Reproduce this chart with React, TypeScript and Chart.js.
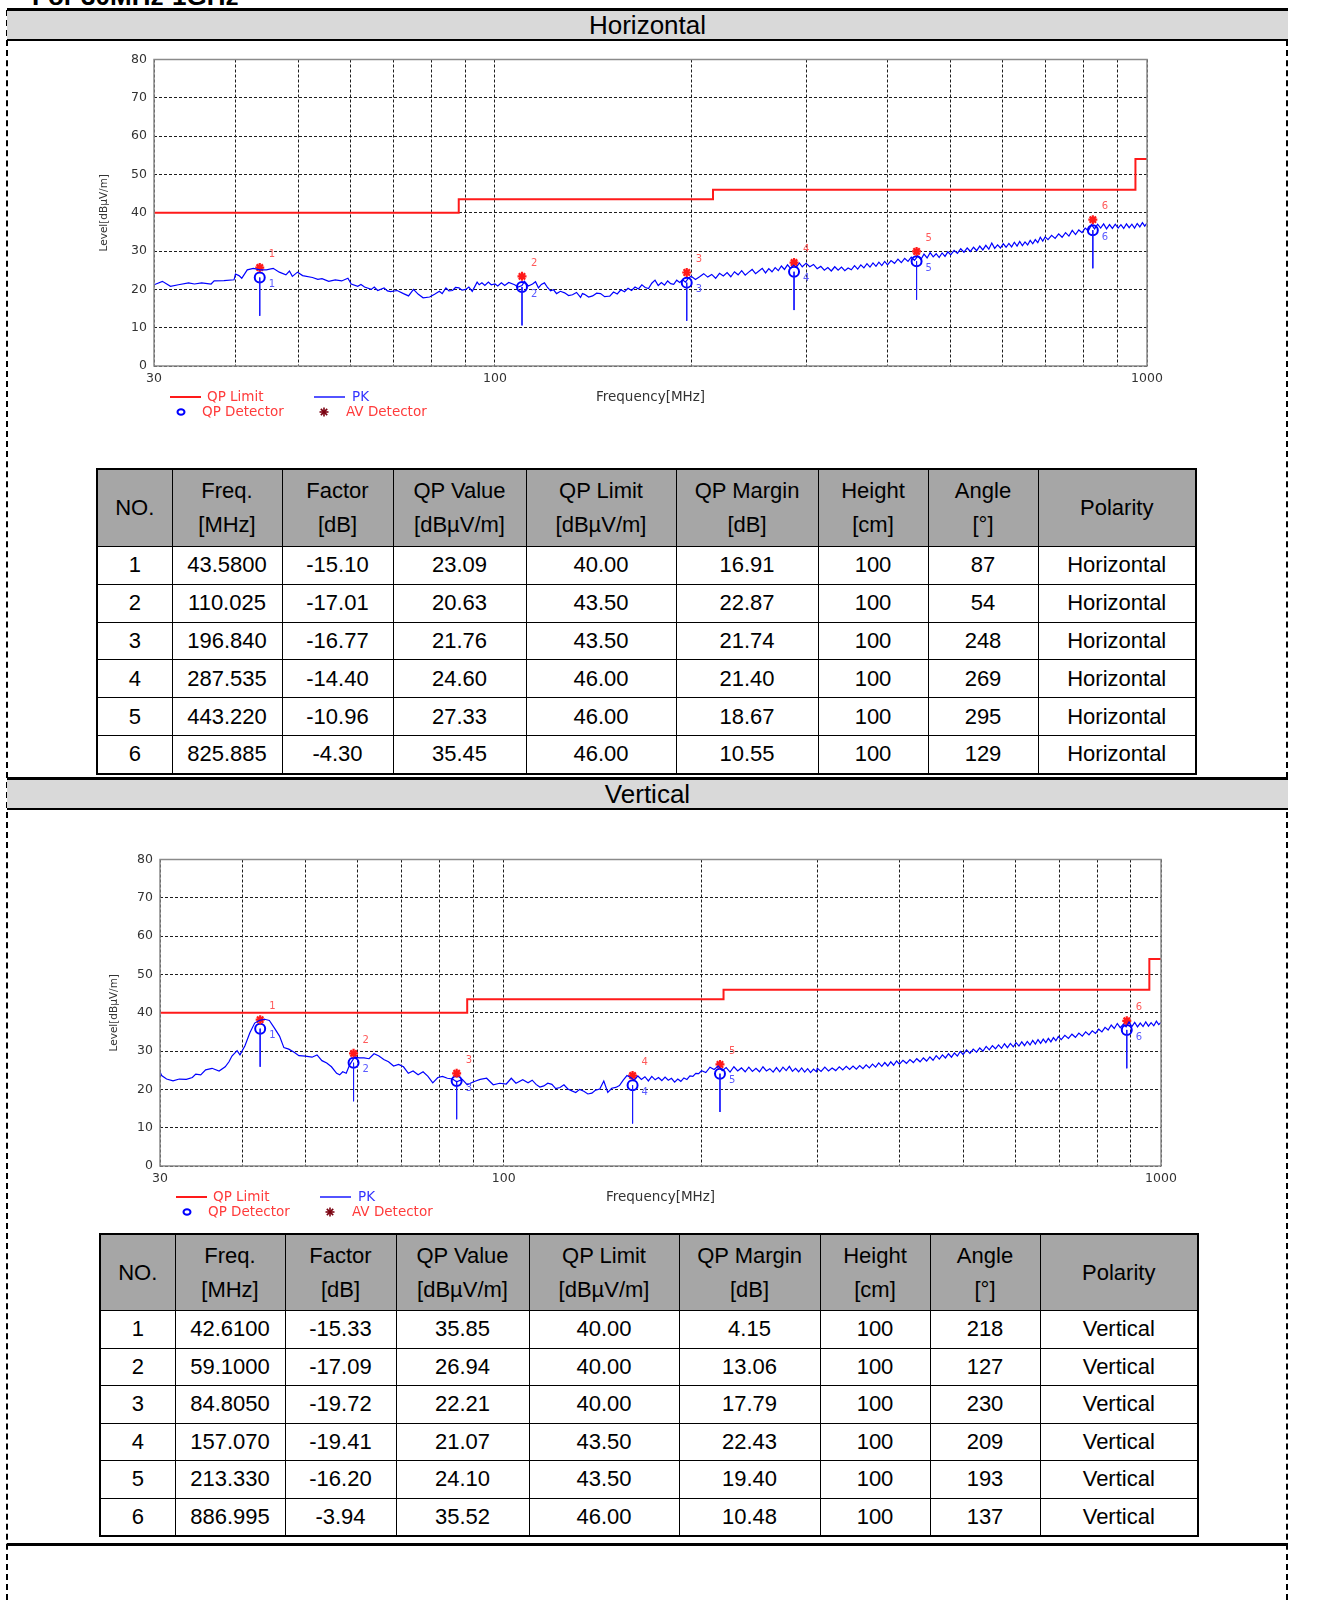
import React, { useEffect, useRef } from 'react';
import { Chart, registerables } from 'chart.js';

Chart.register(...registerables);

// ---------- axis data ----------
const X_GRID = [30, 40, 50, 60, 70, 80, 90, 100, 200, 300, 400, 500, 600, 700, 800, 900, 1000];
const X_LABELS = [30, 100, 1000];

// ---------- limit line (QP Limit) ----------
const LIMIT_FREQ = [30, 88, 88, 216, 216, 960, 960, 1000];
const LIMIT_LEVEL = [40, 40, 43.5, 43.5, 46, 46, 54, 54];

// ---------- PK traces [MHz, dBµV/m] ----------
const H_TRACE: [number, number][] = [
  [30, 21.2], [30.9, 22.1], [31.8, 20.8], [32.7, 21.2], [33.9, 21.7], [34.6, 21.4], [35.5, 21.7], [36.7, 21.4],
  [37.1, 22.2], [38.4, 22.3], [39.8, 22.5], [40.0, 24.0], [40.5, 23.6], [40.9, 22.9], [41.7, 25.1], [42.6, 25.5],
  [43.6, 25.1], [44.6, 25.1], [45.7, 25.5], [46.7, 24.5], [47.8, 23.8], [48.4, 24.8], [48.9, 23.4], [49.8, 24.5],
  [50.7, 23.6], [52.5, 23.1], [53.5, 22.6], [54.3, 22.8], [55.6, 22.1], [56.9, 22.5], [58.2, 22.2], [59.5, 22.9],
  [60.2, 21.4], [61.6, 20.8], [62.3, 21.3], [63.1, 20.6], [64.6, 20.0], [65.3, 20.6], [66.1, 19.7], [67.6, 20.4],
  [68.4, 19.6], [69.2, 19.4], [70.8, 19.7], [72.4, 18.9], [73.7, 18.3], [75.0, 20.0], [76.3, 18.7], [77.6, 17.8],
  [79.4, 18.0], [80.8, 18.7], [82.2, 19.5], [83.0, 18.9], [84.1, 20.4], [85.0, 19.6], [86.1, 19.7], [87.0, 20.5],
  [88.1, 20.4], [89.0, 19.8], [90.2, 20.0], [91.2, 20.6], [92.3, 19.5], [93.9, 21.9], [94.6, 21.2], [95.5, 21.7],
  [96.5, 21.0], [97.7, 21.9], [98.7, 21.2], [100, 21.4], [101, 20.9], [102.3, 21.7], [103.5, 21.0], [105, 21.8],
  [107.2, 21.2], [108.5, 20.6], [110, 21.0], [111, 22.1], [112.5, 20.9], [114.2, 21.4], [115.4, 22.0], [116.6, 20.4],
  [117.8, 21.3], [119.1, 21.7], [120.4, 20.5], [121.7, 19.6], [123, 19.9], [124.3, 18.9], [126, 19.5], [127.9, 19.1],
  [129.7, 18.4], [131.5, 18.6], [133.4, 19.2], [135.3, 17.9], [136.2, 18.9], [137.2, 18.7], [139.2, 18.0], [141.2, 18.3],
  [143.2, 19.0], [145.2, 18.9], [147.3, 18.1], [149.4, 18.2],
  [150, 18.2], [152, 19.3], [154, 18.8], [156, 19.9], [158, 19.4], [160, 20.3], [162, 19.7], [164, 20.6], [166, 20.1],
  [168, 21.2], [170, 20.5], [172, 20.2], [174, 21.6], [176, 22.4], [178, 21.0], [180, 21.8], [182, 21.1], [184, 22.2],
  [186, 21.5], [188, 21.3], [190, 22.4], [192, 21.8], [194, 22.5], [196, 21.9], [198, 22.9],
  [200, 23.4], [203, 22.6], [206, 23.3], [209, 24.1], [212, 23.2], [215, 23.9], [218, 22.9], [221, 24.2], [224, 23.5],
  [227, 24.4], [230, 23.3], [233, 24.6], [236, 23.8], [239, 24.9], [242, 23.7], [245, 24.5], [248, 25.2], [251, 24.1],
  [254, 24.8], [257, 25.5], [260, 24.3], [263, 25.4], [266, 24.6], [269, 25.7], [272, 24.9], [275, 26.1], [278, 25.2],
  [281, 26.4], [284, 25.5], [287, 26.3], [290, 25.8], [293, 26.9], [296, 25.9], [299, 26.6],
  [300, 26.8], [304, 25.9], [308, 26.5], [312, 25.4], [316, 26.0], [320, 25.0], [324, 25.7], [328, 24.8], [332, 25.9],
  [336, 25.0], [340, 25.8], [344, 24.9], [348, 25.6], [352, 25.1], [356, 26.2], [360, 25.3], [364, 26.4], [368, 25.6],
  [372, 26.7], [376, 25.8], [380, 26.9], [384, 26.0], [388, 27.1], [392, 26.2], [396, 27.3],
  [400, 26.4], [405, 27.5], [410, 26.8], [415, 27.9], [420, 27.0], [425, 28.1], [430, 27.3], [435, 28.4], [440, 27.6],
  [445, 28.7], [450, 27.8], [455, 29.2], [460, 28.2], [465, 29.6], [470, 28.5], [475, 29.3], [480, 28.3], [485, 29.5],
  [490, 28.6], [495, 29.8],
  [500, 29.0], [506, 30.2], [512, 29.4], [518, 30.6], [524, 29.7], [530, 30.8], [536, 29.9], [542, 31.0], [548, 30.1],
  [554, 31.3], [560, 30.3], [566, 31.5], [572, 30.5], [578, 32.1], [584, 30.7], [590, 31.6], [596, 30.8], [602, 31.9],
  [608, 31.0], [614, 32.0], [620, 31.1], [626, 32.3], [632, 31.3], [638, 32.5], [644, 31.4], [650, 32.4], [656, 31.6],
  [662, 32.8], [668, 31.9], [674, 33.0], [680, 32.2], [686, 33.6], [692, 32.6], [698, 33.7],
  [705, 33.0], [714, 34.1], [723, 33.3], [732, 34.5], [741, 33.6], [750, 34.8], [759, 33.9], [768, 35.4], [777, 34.3],
  [786, 35.5], [795, 34.8], [804, 36.0], [813, 35.3], [822, 36.9], [831, 35.8], [840, 37.0], [849, 36.0], [858, 37.1],
  [867, 35.8], [876, 36.9], [885, 35.9], [894, 37.0], [903, 36.0], [912, 36.9], [921, 35.9], [930, 37.1], [939, 36.1],
  [948, 37.0], [957, 36.0], [966, 37.2], [975, 36.3], [984, 37.4], [992, 36.5], [1000, 37.3],
];

const V_TRACE: [number, number][] = [
  [30, 24.6], [30.17, 23.6], [30.7, 22.7], [31.4, 22.2], [32.1, 22.7], [32.9, 22.6], [33.6, 23.1], [34.0, 24.0],
  [34.6, 23.8], [35.2, 25.1], [36.0, 25.5], [36.9, 24.8], [37.7, 25.9], [38.2, 27.2], [38.6, 28.7], [39.3, 30.1],
  [39.7, 29.0], [40.4, 31.4], [41.1, 34.8], [41.8, 37.3], [42.5, 38.0], [43.3, 38.3], [44.0, 38.0], [44.8, 36.0],
  [45.6, 33.9], [46.3, 30.9], [47.1, 30.5], [48.0, 29.7], [48.8, 28.8], [49.9, 28.7], [51.1, 28.4], [52.0, 29.0],
  [52.9, 27.5], [53.8, 26.9], [54.7, 25.9], [55.7, 24.2], [56.3, 23.8], [56.9, 24.6], [57.6, 24.2], [58.3, 26.4],
  [59.3, 28.4], [60.3, 28.2], [61.3, 28.2], [62.4, 28.0], [63.5, 29.3], [64.6, 28.7], [65.7, 27.8], [66.8, 27.2],
  [68.0, 26.1], [69.2, 26.5], [70.4, 25.9], [71.6, 24.2], [72.8, 24.8], [74.1, 23.8], [75.4, 24.6], [76.7, 23.4],
  [78.0, 21.7], [79.4, 23.1], [80.7, 23.4], [82.1, 22.9], [83.6, 22.7], [84.8, 22.0], [86.5, 22.6], [88.0, 21.2],
  [90.0, 22.0], [92.1, 22.6], [94.2, 22.9], [96.4, 21.2], [98.6, 21.6], [100.9, 21.4], [102.7, 22.9], [104.4, 21.6],
  [106.9, 22.5], [108.9, 21.7], [110.5, 22.4], [112.0, 21.3], [113.5, 20.6], [115.1, 20.9], [116.7, 21.6], [118.4, 21.3],
  [120, 20.2], [121.8, 20.5], [123.5, 21.2], [125.2, 20.1], [127, 19.6], [128.7, 19.2], [130.5, 20.0], [132.4, 19.5],
  [134.3, 18.8], [136.2, 19.0], [138, 19.8], [140.0, 20.1], [142.0, 22.2], [144.0, 19.2], [146, 20.3], [148.1, 20.5],
  [150, 21.0], [152, 22.4], [154, 23.6], [156, 23.1], [158, 22.4], [160, 23.5], [162, 22.6], [164, 23.3], [166, 22.2],
  [168, 23.4], [170, 22.5], [172, 23.1], [174, 22.3], [176, 23.2], [178, 22.4], [180, 22.9], [182, 21.9], [184, 22.7],
  [186, 22.1], [188, 23.0], [190, 22.6], [192, 23.5], [194, 23.4], [196, 24.2], [198, 24.1],
  [200, 24.9], [203, 24.4], [206, 25.8], [209, 25.2], [212, 26.1], [215, 24.9], [218, 25.7], [221, 24.5], [224, 25.9],
  [227, 24.8], [230, 25.6], [233, 24.6], [236, 25.8], [239, 24.7], [242, 25.5], [245, 24.6], [248, 25.9], [251, 24.8],
  [254, 25.4], [257, 24.5], [260, 25.7], [263, 24.6], [266, 25.8], [269, 24.9], [272, 26.0], [275, 24.7], [278, 25.5],
  [281, 24.6], [284, 25.6], [287, 24.5], [290, 25.4], [293, 24.4], [296, 25.3], [299, 24.6],
  [300, 25.5], [304, 24.7], [308, 25.8], [312, 24.8], [316, 25.6], [320, 24.9], [324, 25.9], [328, 25.1], [332, 26.0],
  [336, 25.2], [340, 26.1], [344, 25.3], [348, 26.2], [352, 25.4], [356, 26.4], [360, 25.6], [364, 26.6], [368, 25.8],
  [372, 26.9], [376, 26.0], [380, 27.0], [384, 26.1], [388, 27.2], [392, 26.3], [396, 27.4],
  [400, 26.6], [405, 27.6], [410, 26.8], [415, 27.8], [420, 27.0], [425, 28.0], [430, 27.2], [435, 28.2], [440, 27.4],
  [445, 28.5], [450, 27.6], [455, 28.8], [460, 27.9], [465, 29.0], [470, 28.2], [475, 29.3], [480, 28.4], [485, 29.5],
  [490, 28.7], [495, 29.9],
  [500, 29.1], [506, 30.3], [512, 29.4], [518, 30.5], [524, 29.7], [530, 30.8], [536, 30.0], [542, 31.2], [548, 30.3],
  [554, 31.4], [560, 30.6], [566, 31.6], [572, 30.7], [578, 31.9], [584, 30.9], [590, 32.0], [596, 31.1], [602, 32.2],
  [608, 31.3], [614, 32.4], [620, 31.4], [626, 32.5], [632, 31.6], [638, 32.8], [644, 31.8], [650, 33.0], [656, 32.0],
  [662, 33.1], [668, 32.2], [674, 33.3], [680, 32.4], [686, 33.5], [692, 32.7], [698, 33.8],
  [705, 33.0], [714, 34.1], [723, 33.3], [732, 34.4], [741, 33.6], [750, 34.7], [759, 33.9], [768, 35.0], [777, 34.2],
  [786, 35.3], [795, 34.6], [804, 35.7], [813, 35.0], [822, 36.2], [831, 35.5], [840, 36.8], [849, 35.9], [858, 37.2],
  [867, 36.1], [876, 37.0], [885, 36.3], [894, 37.6], [903, 36.4], [912, 37.5], [921, 36.3], [930, 37.3], [939, 36.4],
  [948, 37.6], [957, 36.5], [966, 37.4], [975, 36.6], [984, 37.8], [992, 36.9], [1000, 37.5],
];

// ---------- markers ----------
const H_MARK_FREQ = [43.58, 110.025, 196.84, 287.535, 443.22, 825.885];
const H_MARK_QP = [23.09, 20.63, 21.76, 24.6, 27.33, 35.45];
const H_MARK_PEAK = [25.7, 23.4, 24.4, 27.0, 29.9, 38.2];
const H_MARK_STEM = [13.1, 10.6, 11.8, 14.6, 17.3, 25.5];

const V_MARK_FREQ = [42.61, 59.1, 84.805, 157.07, 213.33, 886.995];
const V_MARK_QP = [35.85, 26.94, 22.21, 21.07, 24.1, 35.52];
const V_MARK_PEAK = [38.2, 29.4, 24.2, 23.6, 26.5, 37.9];
const V_MARK_STEM = [25.9, 16.9, 12.2, 11.1, 14.1, 25.5];

// ---------- tables ----------
const TABLE_HEAD: string[][] = [
  ['NO.'], ['Freq.', '[MHz]'], ['Factor', '[dB]'], ['QP Value', '[dBµV/m]'], ['QP Limit', '[dBµV/m]'],
  ['QP Margin', '[dB]'], ['Height', '[cm]'], ['Angle', '[°]'], ['Polarity'],
];
const H_ROWS: string[][] = [
  ['1', '43.5800', '-15.10', '23.09', '40.00', '16.91', '100', '87', 'Horizontal'],
  ['2', '110.025', '-17.01', '20.63', '43.50', '22.87', '100', '54', 'Horizontal'],
  ['3', '196.840', '-16.77', '21.76', '43.50', '21.74', '100', '248', 'Horizontal'],
  ['4', '287.535', '-14.40', '24.60', '46.00', '21.40', '100', '269', 'Horizontal'],
  ['5', '443.220', '-10.96', '27.33', '46.00', '18.67', '100', '295', 'Horizontal'],
  ['6', '825.885', '-4.30', '35.45', '46.00', '10.55', '100', '129', 'Horizontal'],
];
const V_ROWS: string[][] = [
  ['1', '42.6100', '-15.33', '35.85', '40.00', '4.15', '100', '218', 'Vertical'],
  ['2', '59.1000', '-17.09', '26.94', '40.00', '13.06', '100', '127', 'Vertical'],
  ['3', '84.8050', '-19.72', '22.21', '40.00', '17.79', '100', '230', 'Vertical'],
  ['4', '157.070', '-19.41', '21.07', '43.50', '22.43', '100', '209', 'Vertical'],
  ['5', '213.330', '-16.20', '24.10', '43.50', '19.40', '100', '193', 'Vertical'],
  ['6', '886.995', '-3.94', '35.52', '46.00', '10.48', '100', '137', 'Vertical'],
];
const H_COLS = [75, 110, 111, 133, 150, 142, 110, 110, 158];
const V_COLS = [75, 110, 111, 133, 150, 141, 110, 110, 158];

const CHART_FONT = "'DejaVu Sans', sans-serif";
const PAGE_FONT = "'Liberation Sans', Arial, sans-serif";

type ChartProps = {
  left: number; top: number; width: number; height: number; padRight: number; yTitlePad: number;
  trace: [number, number][]; mf: number[]; mq: number[]; mp: number[]; ms: number[];
};

function EmcChart(props: ChartProps) {
  const ref = useRef<HTMLCanvasElement>(null);
  useEffect(() => {
    const canvas = ref.current;
    if (!canvas) return;
    const { trace, mf, mq, mp, ms, padRight, yTitlePad } = props;
    const stems: any[] = [];
    mf.forEach((f, i) => {
      stems.push({ x: f, y: mq[i] }, { x: f, y: ms[i] }, { x: f, y: null });
    });

    const overlay = {
      id: 'emcOverlay',
      afterDatasetsDraw(chart: any) {
        const { ctx, scales } = chart;
        const xs = scales.x, ys = scales.y;
        ctx.save();
        ctx.font = `10px ${CHART_FONT}`;
        ctx.textBaseline = 'middle';
        ctx.textAlign = 'left';
        mf.forEach((f, i) => {
          const px = xs.getPixelForValue(f);
          ctx.fillStyle = '#ff5a5a';
          ctx.fillText(String(i + 1), px + 9, ys.getPixelForValue(mp[i]) - 13);
          ctx.fillStyle = '#5a5aff';
          ctx.fillText(String(i + 1), px + 9, ys.getPixelForValue(mq[i]) + 7);
        });
        ctx.restore();
      },
      afterDraw(chart: any) {
        const { ctx, chartArea: a } = chart;
        ctx.save();
        ctx.strokeStyle = '#8a8a8a';
        ctx.lineWidth = 1.5;
        ctx.setLineDash([]);
        ctx.strokeRect(a.left, a.top, a.right - a.left, a.bottom - a.top);

        const L = a.left;
        const y1 = a.bottom + 31;
        const y2 = a.bottom + 46;
        ctx.font = `13.5px ${CHART_FONT}`;
        ctx.textBaseline = 'middle';
        ctx.textAlign = 'left';
        // QP Limit
        ctx.strokeStyle = '#ff1a1a';
        ctx.lineWidth = 2;
        ctx.beginPath(); ctx.moveTo(L + 16, y1); ctx.lineTo(L + 47, y1); ctx.stroke();
        ctx.fillStyle = '#ff3b3b';
        ctx.fillText('QP Limit', L + 53, y1);
        // PK
        ctx.strokeStyle = '#1a1aff';
        ctx.lineWidth = 1.5;
        ctx.beginPath(); ctx.moveTo(L + 160, y1); ctx.lineTo(L + 191, y1); ctx.stroke();
        ctx.fillStyle = '#3333ff';
        ctx.fillText('PK', L + 198, y1);
        // QP Detector
        ctx.strokeStyle = '#0000ff';
        ctx.lineWidth = 2;
        ctx.beginPath(); ctx.ellipse(L + 27, y2, 3.5, 2.8, 0, 0, Math.PI * 2); ctx.stroke();
        ctx.fillStyle = '#ff3b3b';
        ctx.fillText('QP Detector', L + 48, y2);
        // AV Detector
        ctx.strokeStyle = '#7a0010';
        ctx.lineWidth = 1.6;
        const sx = L + 170, r = 4.5;
        for (let k = 0; k < 4; k++) {
          const ang = (k * Math.PI) / 4;
          ctx.beginPath();
          ctx.moveTo(sx - r * Math.cos(ang), y2 - r * Math.sin(ang));
          ctx.lineTo(sx + r * Math.cos(ang), y2 + r * Math.sin(ang));
          ctx.stroke();
        }
        ctx.fillStyle = '#ff3b3b';
        ctx.fillText('AV Detector', L + 192, y2);
        ctx.restore();
      },
    };

    const chart = new Chart(canvas, {
      type: 'line',
      data: {
        datasets: [
          {
            label: 'QP Limit',
            data: LIMIT_FREQ.map((f, i) => ({ x: f, y: LIMIT_LEVEL[i] })),
            borderColor: '#ff1a1a',
            borderWidth: 2,
            pointRadius: 0,
          },
          {
            label: 'PK',
            data: trace.map(([f, v]) => ({ x: f, y: v })),
            borderColor: '#0000ff',
            borderWidth: 1.2,
            pointRadius: 0,
          },
          {
            label: 'stems',
            data: stems,
            borderColor: '#1a1aff',
            borderWidth: 1,
            pointRadius: 0,
            spanGaps: false,
          },
          {
            label: 'AV Detector',
            data: mf.map((f, i) => ({ x: f, y: mp[i] })),
            showLine: false,
            pointStyle: 'star',
            pointRadius: 4.5,
            borderWidth: 2.2,
            borderColor: '#ff1a1a',
            backgroundColor: '#ff1a1a',
          },
          {
            label: 'QP Detector',
            data: mf.map((f, i) => ({ x: f, y: mq[i] })),
            showLine: false,
            pointStyle: 'circle',
            pointRadius: 5,
            borderWidth: 2,
            borderColor: '#0000ff',
            backgroundColor: 'rgba(0,0,0,0)',
          },
        ] as any,
      },
      options: {
        animation: false,
        responsive: false,
        maintainAspectRatio: false,
        layout: { padding: { left: 0, right: padRight, top: 13, bottom: 0 } },
        elements: { line: { tension: 0 } },
        plugins: { legend: { display: false }, tooltip: { enabled: false } },
        scales: {
          x: {
            type: 'logarithmic',
            min: 30,
            max: 1000,
            afterBuildTicks: (s: any) => {
              s.ticks = X_GRID.map((v) => ({ value: v }));
            },
            afterFit: (s: any) => {
              s.height = 64;
            },
            ticks: {
              autoSkip: false,
              maxRotation: 0,
              padding: 5,
              color: '#333',
              font: { family: CHART_FONT, size: 12.5 },
              callback: (v: any) => (X_LABELS.includes(Number(v)) ? String(v) : ''),
            },
            grid: { color: '#1e1e1e', lineWidth: 1, drawTicks: false },
            border: { display: false, dash: [3, 2] },
            title: {
              display: true,
              text: 'Frequency[MHz]',
              color: '#333',
              font: { family: CHART_FONT, size: 13.5 },
              padding: { top: 0, bottom: 24 },
            },
          },
          y: {
            type: 'linear',
            min: 0,
            max: 80,
            afterFit: (s: any) => {
              s.width = 64;
            },
            ticks: {
              stepSize: 10,
              padding: 7,
              color: '#333',
              font: { family: CHART_FONT, size: 12.5 },
            },
            grid: { color: '#1e1e1e', lineWidth: 1, drawTicks: false },
            border: { display: false, dash: [3, 2] },
            title: {
              display: true,
              text: 'Level[dBµV/m]',
              color: '#333',
              font: { family: CHART_FONT, size: 10.5 },
              padding: { top: yTitlePad, bottom: 0 },
            },
          },
        },
      } as any,
      plugins: [overlay as any],
    });
    return () => chart.destroy();
  }, []);
  return (
    <canvas
      ref={ref}
      width={props.width}
      height={props.height}
      style={{ position: 'absolute', left: props.left, top: props.top, width: props.width, height: props.height }}
    />
  );
}

function DataTable({ left, top, cols, headH, rowH, rows }: { left: number; top: number; cols: number[]; headH: number; rowH: number; rows: string[][] }) {
  const total = cols.reduce((a, b) => a + b, 0);
  const cell: React.CSSProperties = {
    border: '1px solid #000',
    padding: 0,
    textAlign: 'center',
    verticalAlign: 'middle',
    fontSize: 22,
    color: '#000',
    overflow: 'hidden',
    whiteSpace: 'nowrap',
  };
  return (
    <table
      style={{
        position: 'absolute', left, top, width: total, borderCollapse: 'collapse', tableLayout: 'fixed',
        border: '2px solid #000', fontFamily: PAGE_FONT,
      }}
    >
      <colgroup>
        {cols.map((w, i) => <col key={i} style={{ width: w }} />)}
      </colgroup>
      <thead>
        <tr style={{ height: headH }}>
          {TABLE_HEAD.map((lines, i) => (
            <th key={i} style={{ ...cell, background: '#a6a6a6', fontWeight: 'normal', lineHeight: '34px', height: headH }}>
              {lines.map((t, j) => (
                <div key={j}>{t}</div>
              ))}
            </th>
          ))}
        </tr>
      </thead>
      <tbody>
        {rows.map((r, i) => (
          <tr key={i} style={{ height: rowH }}>
            {r.map((t, j) => (
              <td key={j} style={{ ...cell, height: rowH, lineHeight: '28px' }}>{t}</td>
            ))}
          </tr>
        ))}
      </tbody>
    </table>
  );
}

function SectionBar({ top, label }: { top: number; label: string }) {
  return (
    <div
      style={{
        position: 'absolute', left: 7, top, width: 1281, height: 28, background: '#d9d9d9',
        borderTop: '3px solid #000', borderBottom: '2px solid #000',
        textAlign: 'center', fontSize: 26, lineHeight: '28px', fontFamily: PAGE_FONT, color: '#000',
      }}
    >
      {label}
    </div>
  );
}

export default function App() {
  return (
    <div
      style={{
        position: 'absolute', left: 0, top: 0, width: 1318, height: 1600, overflow: 'hidden',
        background: '#fff', fontFamily: PAGE_FONT,
      }}
    >
      <div
        style={{
          position: 'absolute', left: 32, top: -17, fontSize: 26, lineHeight: '26px', fontWeight: 'bold',
          fontFamily: PAGE_FONT, color: '#000', whiteSpace: 'nowrap',
        }}
      >
        For 30MHz-1GHz
      </div>
      <div style={{ position: 'absolute', left: 6, top: 10, width: 0, height: 1590, borderLeft: '2px dashed #000' }} />
      <div style={{ position: 'absolute', left: 1286, top: 10, width: 0, height: 1590, borderLeft: '2px dashed #000' }} />

      <SectionBar top={8} label="Horizontal" />
      <EmcChart
        left={90} top={45} width={1100} height={385} padRight={43} yTitlePad={8}
        trace={H_TRACE} mf={H_MARK_FREQ} mq={H_MARK_QP} mp={H_MARK_PEAK} ms={H_MARK_STEM}
      />
      <DataTable left={96} top={468} cols={H_COLS} headH={76} rowH={36.8} rows={H_ROWS} />

      <SectionBar top={777} label="Vertical" />
      <EmcChart
        left={96} top={845} width={1100} height={385} padRight={35} yTitlePad={12}
        trace={V_TRACE} mf={V_MARK_FREQ} mq={V_MARK_QP} mp={V_MARK_PEAK} ms={V_MARK_STEM}
      />
      <DataTable left={99} top={1233} cols={V_COLS} headH={75} rowH={36.5} rows={V_ROWS} />

      <div style={{ position: 'absolute', left: 7, top: 1543, width: 1281, height: 3, background: '#000' }} />
    </div>
  );
}
